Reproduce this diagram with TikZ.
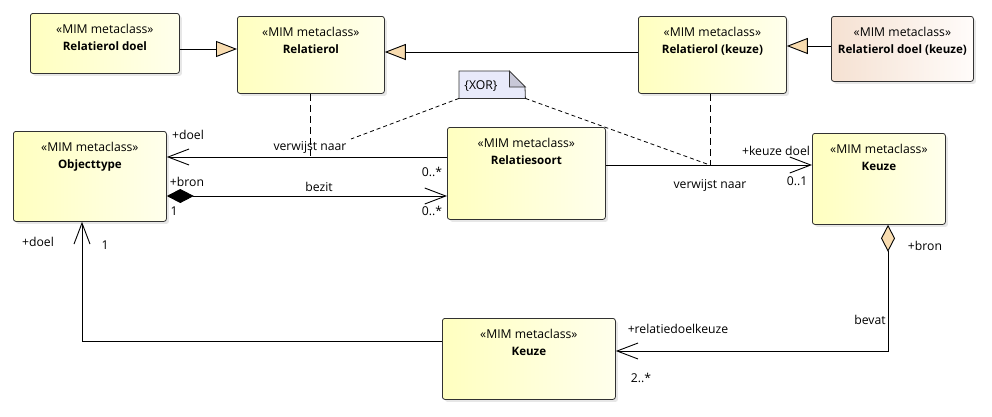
\documentclass[tikz,border=0pt]{standalone}
\usepackage{fontspec}
\setmainfont{Open Sans}
\usetikzlibrary{arrows.meta,shadows,calc}
\definecolor{yelL}{RGB}{255,255,192}
\definecolor{yelR}{RGB}{255,255,236}
\definecolor{peaL}{RGB}{245,225,210}
\definecolor{peaR}{RGB}{255,252,250}
\definecolor{tanc}{RGB}{248,220,176}
\definecolor{notec}{RGB}{232,234,250}
\definecolor{foldc}{RGB}{200,200,216}
\definecolor{bord}{RGB}{50,50,50}
\newcommand\mimclass[7][yel]{%
  \node[cls,#1,minimum width=#5pt,minimum height=#6pt,anchor=north west] (#2) at (#3,#4) {};
  \node[txt,anchor=base] (#2-s) at ([yshift=-20pt]#2.north) {«MIM metaclass»};
  \node[txt,anchor=base,font=\fontsize{11.6}{13}\selectfont\bfseries] (#2-t) at ([yshift=-37pt]#2.north) {#7};
}
\begin{document}
\begin{tikzpicture}[x=1pt,y=-1pt, font=\fontsize{12.2}{14}\selectfont,
  cls/.style={draw=bord, line width=0.8pt, rounded corners=2.5pt,
    drop shadow={shadow xshift=2.5pt, shadow yshift=-2.5pt, fill=black!18}, inner sep=0pt},
  yel/.style={left color=yelL, right color=yelR},
  pea/.style={left color=peaL, right color=peaR},
  txt/.style={inner sep=0pt, text=black},
  lbl/.style={inner sep=0pt, anchor=center, text=black},
  conn/.style={line width=0.9pt, draw=black},
  gen/.style={conn, -{Triangle[length=21pt,width=16pt,fill=tanc]}},
  nav/.style={-{Straight Barb[length=21pt,width=16pt]}},
  depl/.style={line width=0.8pt, dash pattern=on 7pt off 4pt},
  notel/.style={line width=0.8pt, dash pattern=on 4pt off 3pt},
]
\fill[white] (0,0) rectangle (992,416);
\useasboundingbox (0,0) rectangle (992,416);

% classes
\mimclass{rd}{30}{13}{149}{60}{Relatierol doel}
\mimclass{rr}{237}{16}{147}{77}{Relatierol}
\mimclass{rk}{638}{16}{148}{77}{Relatierol (keuze)}
\mimclass[pea]{rdk}{831}{16}{142}{65}{Relatierol doel (keuze)}
\mimclass{ot}{13}{131}{153}{90}{Objecttype}
\mimclass{rs}{447}{127}{158}{92}{Relatiesoort}
\mimclass{ku}{812}{133}{133}{91}{Keuze}
\mimclass{kb}{442}{318}{173}{81}{Keuze}

% note
\node[inner sep=0pt, minimum width=66pt, minimum height=27pt, anchor=north west] (note) at (459,71) {};
\draw[fill=notec, line width=0.8pt, draw=bord] (note.north west) -- ++(50,0) -- ++(16,16) -- (note.south east) -- (note.south west) -- cycle;
\draw[fill=foldc, line width=0.8pt, draw=bord] ([xshift=-16pt]note.north east) -- ++(0,16) -- ++(16,0) -- cycle;
\node[lbl] (xor) at (481,86) {\{XOR\}};

% generalizations
\draw[gen] (rd.east |- 0,49) -- (rr.west |- 0,49);
\draw[gen] (rk.west |- 0,52) -- (rr.east |- 0,52);
\draw[gen] (rdk.west |- 0,46) -- (rk.east |- 0,46);

% associations
\draw[conn,nav] (rs.west |- 0,157) -- (ot.east |- 0,157);
\draw[conn,{Diamond[length=27pt,width=14pt,fill=black]}-{Straight Barb[length=21pt,width=16pt]}] (ot.east |- 0,196) -- (rs.west |- 0,196);
\draw[conn,nav] (rs.east |- 0,165) -- (ku.west |- 0,165);
\draw[conn,nav] (kb.west |- 0,341) -- (82,341) -- (ot.south -| 82,0);
\draw[conn,{Diamond[length=27pt,width=14pt,fill=tanc]}-{Straight Barb[length=21pt,width=16pt]}] (ku.south -| 888,0) -- (888,351) -- (kb.east |- 0,351);

% association class links
\coordinate (a1) at (310,157);
\coordinate (a2) at (710,165);
\draw[depl] (rr.south -| a1) -- (a1);
\draw[depl] (rk.south -| a2) -- (a2);
\coordinate (c1) at (351,139);
\coordinate (c2) at (707,164);
\draw[notel] (note.south west) -- (c1);
\draw[notel] (note.south east) -- (c2);

% labels
\node[lbl] (l1) at (188,135) {+doel};
\node[lbl] (l2) at (310,147) {verwijst naar};
\node[lbl] (l3) at (432,172) {0..*};
\node[lbl] (l4) at (187,182) {+bron};
\node[lbl] (l5) at (174,211) {1};
\node[lbl] (l6) at (319,187) {bezit};
\node[lbl] (l7) at (432,211) {0..*};
\node[lbl] (l8) at (38,242) {+doel};
\node[lbl] (l9) at (105,245) {1};
\node[lbl] (l10) at (776,151) {+keuze doel};
\node[lbl] (l11) at (797,181) {0..1};
\node[lbl] (l12) at (710,185) {verwijst naar};
\node[lbl] (l13) at (925,246) {+bron};
\node[lbl] (l14) at (870,320) {bevat};
\node[lbl] (l15) at (678,329) {+relatiedoelkeuze};
\node[lbl] (l16) at (641,378) {2..*};
\end{tikzpicture}
\end{document}
